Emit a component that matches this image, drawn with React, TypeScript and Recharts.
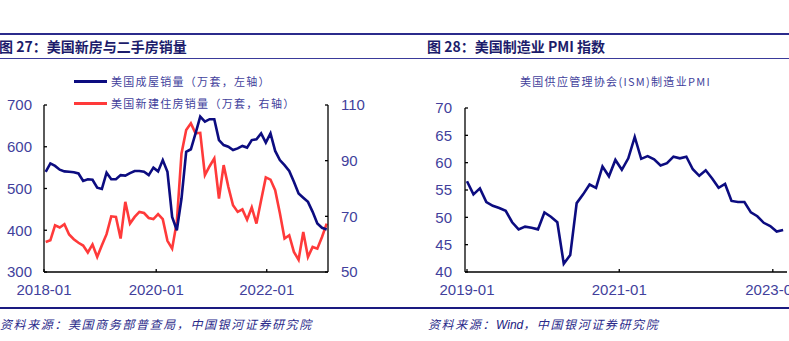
import React from 'react';
import { LineChart, Line, XAxis, YAxis } from 'recharts';

// 美国成屋销量（万套）2018-01 ~ 2023-01
const existingSales = [
  540, 560, 554, 545, 541, 540, 539, 536, 518, 522, 521, 502,
  499, 538, 522, 522, 532, 531, 537, 542, 542, 540, 532, 550,
  541, 568, 540, 432, 400, 476, 588, 594, 632, 672, 660, 666,
  666, 616, 604, 600, 592, 596, 602, 598, 616, 618, 632, 610,
  632, 590, 568, 556, 542, 516, 488, 478, 468, 444, 416, 406,
  402,
];

// 美国新建住房销量（万套）2018-01 ~ 2023-01
const newSales = [
  60.8, 61.4, 66.8, 66, 67.2, 63.5, 61.8, 60.5, 59.5, 57, 59.9, 55.4,
  59.6, 63.6, 70, 69.8, 62, 75.2, 67.4, 69.8, 71.6, 71.2, 69.4, 69,
  70.8, 69, 61.2, 58.4, 68, 92.6, 101, 103.4, 99.8, 100, 84.8, 88,
  90.8, 76.4, 88.4, 80.6, 74, 71.6, 72.5, 68.8, 73.2, 67.4, 75.8, 84,
  83.2, 79.4, 71.2, 62, 63.2, 57.2, 54.4, 64.4, 55.4, 59, 58.4, 62.6,
  67.4,
];

// ISM 制造业 PMI 2019-01 ~ 2023-02
const pmi = [
  56.6, 54.2, 55.3, 52.8, 52.1, 51.7, 51.2, 49.1, 47.8, 48.3, 48.1, 47.8,
  50.9, 50.1, 49.1, 41.5, 43.1, 52.6, 54.2, 56.0, 55.4, 59.3, 57.5, 60.5,
  58.7, 60.8, 64.7, 60.7, 61.2, 60.6, 59.5, 59.9, 61.1, 60.8, 61.1, 58.8,
  57.6, 58.6, 57.1, 55.4, 56.1, 53.0, 52.8, 52.8, 50.9, 50.2, 49.0, 48.4,
  47.4, 47.7,
];

const leftTicks = [-0.36, 23.6, 47.2];
const leftTickLabels = ['2018-01', '2020-01', '2022-01'];
const rightTicks = [0, 23.6, 47.4];
const rightTickLabels = ['2019-01', '2021-01', '2023-01'];

const seriesNames = ['美国成屋销量（万套，左轴）', '美国新建住房销量（万套，右轴）'];

const NAVY = '#0c0c80';
const RED = '#ff3a3a';
const TICK = '#423f9c';
const CJK = '"Noto Sans CJK SC", "Noto Sans", sans-serif';
const ARIAL = '"Liberation Sans", Arial, sans-serif';

const leftData = existingSales.map((v, i) => ({ i, existing: v, newHome: newSales[i] }));
const rightData = pmi.map((v, i) => ({ i, pmi: v }));

const tickStyle = { fill: TICK, fontSize: 15, fontFamily: ARIAL };
const axisLine = { stroke: '#000', strokeWidth: 1.3 };
const tickLine = { stroke: '#000', strokeWidth: 1.3 };

const App = () => {
  return (
    <div style={{ position: 'absolute', left: 0, top: 0, width: 789, height: 341, background: '#fff', overflow: 'hidden' }}>
      {/* header rules */}
      <div style={{ position: 'absolute', left: 0, top: 33, width: 789, height: 2, background: '#2b2b8c' }} />
      <div style={{ position: 'absolute', left: 0, top: 58, width: 789, height: 1, background: '#3a3a9a' }} />
      <div style={{ position: 'absolute', left: -1, top: 37, fontFamily: CJK, fontWeight: 'bold', fontSize: 14, lineHeight: '18px', color: '#1c1c6b', whiteSpace: 'nowrap' }}>
        图 27：美国新房与二手房销量
      </div>
      <div style={{ position: 'absolute', left: 427, top: 37, fontFamily: CJK, fontWeight: 'bold', fontSize: 14, lineHeight: '18px', color: '#1c1c6b', whiteSpace: 'nowrap' }}>
        图 28：美国制造业 PMI 指数
      </div>

      {/* left chart */}
      <div style={{ position: 'absolute', left: 0, top: 0 }}>
        <LineChart width={400} height={341} data={leftData} margin={{ top: 105, right: 0, bottom: 0, left: 0 }}>
          <XAxis
            dataKey="i"
            type="number"
            domain={[-0.36, 60.28]}
            ticks={leftTicks}
            interval={0}
            tickFormatter={(v: number) => leftTickLabels[leftTicks.indexOf(v)]}
            height={69}
            tickSize={-3}
            tickMargin={15}
            axisLine={axisLine}
            tickLine={tickLine}
            tick={tickStyle}
          />
          <YAxis
            yAxisId="l"
            domain={[300, 700]}
            ticks={[300, 400, 500, 600, 700]}
            width={44}
            tickSize={-3}
            tickMargin={15}
            axisLine={axisLine}
            tickLine={tickLine}
            tick={tickStyle}
          />
          <YAxis
            yAxisId="r"
            orientation="right"
            domain={[50, 110]}
            ticks={[50, 70, 90, 110]}
            width={72}
            tickSize={-3}
            tickMargin={16}
            axisLine={axisLine}
            tickLine={tickLine}
            tick={tickStyle}
          />
          <Line yAxisId="r" type="linear" dataKey="newHome" name={seriesNames[1]} stroke={RED} strokeWidth={2.6} dot={false} isAnimationActive={false} />
          <Line yAxisId="l" type="linear" dataKey="existing" name={seriesNames[0]} stroke={NAVY} strokeWidth={2.6} dot={false} isAnimationActive={false} />
        </LineChart>
      </div>

      {/* left legend */}
      {seriesNames.map((name, k) => (
        <div key={name} style={{ position: 'absolute', left: 74, top: 73 + k * 22, height: 16, display: 'flex', alignItems: 'center', whiteSpace: 'nowrap', background: k === 1 ? '#fff' : 'transparent' }}>
          <div style={{ width: 33, height: 3, background: k === 0 ? NAVY : RED, marginRight: 4 }} />
          <span style={{ fontFamily: CJK, fontSize: 11, letterSpacing: 1.3, color: TICK }}>{name}</span>
        </div>
      ))}

      {/* right chart */}
      <div style={{ position: 'absolute', left: 400, top: 0 }}>
        <LineChart width={389} height={341} data={rightData} margin={{ top: 108, right: 2, bottom: 0, left: 0 }}>
          <XAxis
            dataKey="i"
            type="number"
            domain={[-0.31, 49.6]}
            ticks={rightTicks}
            interval={0}
            tickFormatter={(v: number) => rightTickLabels[rightTicks.indexOf(v)]}
            height={69}
            tickSize={-3}
            tickMargin={15}
            axisLine={axisLine}
            tickLine={tickLine}
            tick={tickStyle}
          />
          <YAxis
            domain={[40, 70]}
            ticks={[40, 45, 50, 55, 60, 65, 70]}
            width={65}
            tickSize={-3}
            tickMargin={16}
            axisLine={axisLine}
            tickLine={tickLine}
            tick={tickStyle}
          />
          <Line type="linear" dataKey="pmi" stroke={NAVY} strokeWidth={2.6} dot={false} isAnimationActive={false} />
        </LineChart>
      </div>
      <div style={{ position: 'absolute', left: 520, top: 73, fontFamily: CJK, fontSize: 11, letterSpacing: 1.3, color: TICK, whiteSpace: 'nowrap' }}>
        美国供应管理协会(ISM)制造业PMI
      </div>

      {/* footer */}
      <div style={{ position: 'absolute', left: 0, top: 307, width: 789, height: 2, background: '#1a1a80' }} />
      <div style={{ position: 'absolute', left: 0, top: 315, fontFamily: CJK, fontStyle: 'italic', fontSize: 12, letterSpacing: 1.6, color: '#2a2a8a', whiteSpace: 'nowrap' }}>
        资料来源：美国商务部普查局，中国银河证券研究院
      </div>
      <div style={{ position: 'absolute', left: 428, top: 315, fontFamily: CJK, fontStyle: 'italic', fontSize: 12, letterSpacing: 1.6, color: '#2a2a8a', whiteSpace: 'nowrap' }}>
        资料来源：<span style={{ fontFamily: ARIAL, letterSpacing: 0, color: '#1a1a80' }}>Wind</span>，中国银河证券研究院
      </div>
    </div>
  );
};

export default App;
